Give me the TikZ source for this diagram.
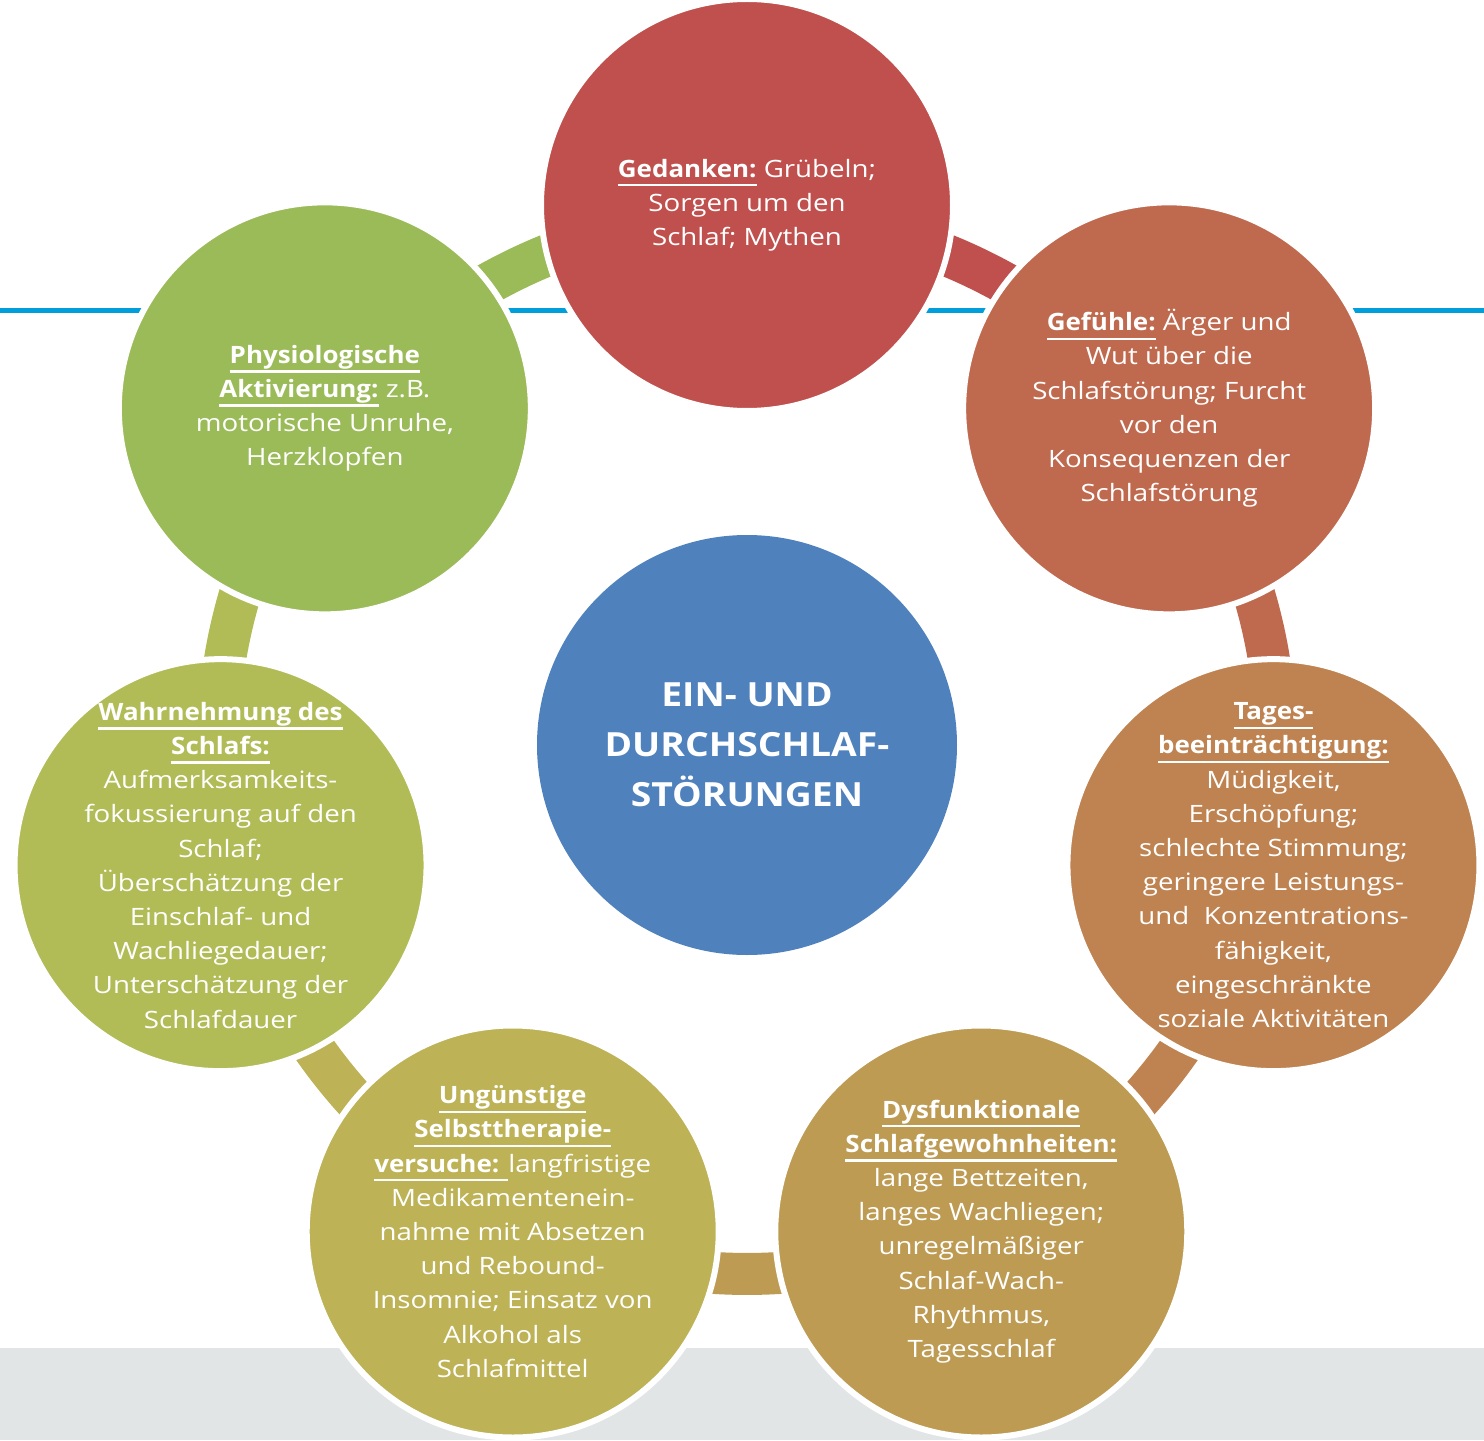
\documentclass[tikz,border=0pt]{standalone}
\usepackage{fontspec}
\setmainfont{Open Sans}[UprightFeatures={FakeStretch=1.158}, BoldFeatures={FakeStretch=1.086}]
\newfontfamily\kernfont{Open Sans}[FakeStretch=1.12]
\usetikzlibrary{positioning,calc}

\definecolor{gedankenred}{RGB}{192,80,77}
\definecolor{gefuehlered}{RGB}{191,106,79}
\definecolor{tagesorange}{RGB}{190,131,81}
\definecolor{gewohnheitgold}{RGB}{189,155,83}
\definecolor{therapieolive}{RGB}{189,178,85}
\definecolor{wahrnehmunggreen}{RGB}{177,188,87}
\definecolor{aktivierunggreen}{RGB}{155,187,89}
\definecolor{kernblue}{RGB}{79,129,189}
\definecolor{leisteblue}{RGB}{0,158,218}
\definecolor{sockelgray}{RGB}{226,229,230}

\newcommand{\CycleRadius}{5.40}
\newcommand{\BandFactor}{0.9796}
\newcommand{\BandRadius}{5.29}

% bold heading with a flat underline below the descenders
\newsavebox{\hdbox}
\newcommand{\hd}[1]{\sbox{\hdbox}{\bfseries #1}\rlap{\rule[-0.39em]{\wd\hdbox}{0.1em}}\usebox{\hdbox}}

\pgfdeclarelayer{back}
\pgfdeclarelayer{bands}
\pgfsetlayers{back,bands,main}

\tikzset{
  stepcircle/.style={circle, minimum size=4.12cm, inner sep=0pt, draw=white, line width=0.06cm},
  steptext/.style={text=white, align=center, inner sep=0pt, font=\fontsize{6.8}{9.73}\selectfont},
  band/.style={line width=0.42cm},
}

\begin{document}
\begin{tikzpicture}
  \useasboundingbox (-7.47,-6.95) rectangle (7.37,7.45);

  \node[circle, fill=kernblue, minimum size=4.20cm, inner sep=0pt, text=white, align=center,
        font=\kernfont\fontsize{9.47}{14.2}\selectfont\bfseries] (kern) at (0,0)
        {EIN- UND\\DURCHSCHLAF-\\STÖRUNGEN};

  \node[stepcircle, fill=gedankenred,
        label={[steptext]center:{\hd{Gedanken:} Grübeln;\\Sorgen um den\\Schlaf; Mythen}}]
        (gedanken) at ($(kern)+(90:\CycleRadius)$) {};
  \node[stepcircle, fill=gefuehlered,
        label={[steptext]center:{\hd{Gefühle:} Ärger und\\Wut über die\\Schlafstörung; Furcht\\vor den\\Konsequenzen der\\Schlafstörung}}]
        (gefuehle) at ($(kern)+(38.571:\CycleRadius)$) {};
  \node[stepcircle, fill=tagesorange,
        label={[steptext]center:{\hd{Tages-}\\\hd{beeinträchtigung:}\\Müdigkeit,\\Erschöpfung;\\schlechte Stimmung;\\geringere Leistungs-\\und\ \ Konzentrations-\\fähigkeit,\\eingeschränkte\\soziale Aktivitäten}}]
        (tages) at ($(kern)+(-12.857:\CycleRadius)$) {};
  \node[stepcircle, fill=gewohnheitgold,
        label={[steptext]center:{\hd{Dysfunktionale}\\\hd{Schlafgewohnheiten:}\\lange Bettzeiten,\\langes Wachliegen;\\unregelmäßiger\\Schlaf-Wach-\\Rhythmus,\\Tagesschlaf}}]
        (gewohnheit) at ($(kern)+(-64.286:\CycleRadius)$) {};
  \node[stepcircle, fill=therapieolive,
        label={[steptext]center:{\hd{Ungünstige}\\\hd{Selbsttherapie-}\\\hd{versuche: }langfristige\\Medikamentenein-\\nahme mit Absetzen\\und Rebound-\\Insomnie; Einsatz von\\Alkohol als\\Schlafmittel}}]
        (therapie) at ($(kern)+(-115.714:\CycleRadius)$) {};
  \node[stepcircle, fill=wahrnehmunggreen,
        label={[steptext]center:{\hd{Wahrnehmung des}\\\hd{Schlafs:}\\Aufmerksamkeits-\\fokussierung auf den\\Schlaf;\\Überschätzung der\\Einschlaf- und\\Wachliegedauer;\\Unterschätzung der\\Schlafdauer}}]
        (wahrnehmung) at ($(kern)+(-167.143:\CycleRadius)$) {};
  \node[stepcircle, fill=aktivierunggreen,
        label={[steptext]center:{\hd{Physiologische}\\\hd{Aktivierung:} z.B.\\motorische Unruhe,\\Herzklopfen}}]
        (aktivierung) at ($(kern)+(141.429:\CycleRadius)$) {};

  % ring segments between the steps
  \begin{pgfonlayer}{bands}
    \draw[band, gedankenred] ($(kern)!\BandFactor!(gedanken)$) arc[start angle=90, end angle=38.571, radius=\BandRadius];
    \draw[band, gefuehlered] ($(kern)!\BandFactor!(gefuehle)$) arc[start angle=38.571, end angle=-12.857, radius=\BandRadius];
    \draw[band, tagesorange] ($(kern)!\BandFactor!(tages)$) arc[start angle=-12.857, end angle=-64.286, radius=\BandRadius];
    \draw[band, gewohnheitgold] ($(kern)!\BandFactor!(gewohnheit)$) arc[start angle=-64.286, end angle=-115.714, radius=\BandRadius];
    \draw[band, therapieolive] ($(kern)!\BandFactor!(therapie)$) arc[start angle=-115.714, end angle=-167.143, radius=\BandRadius];
    \draw[band, wahrnehmunggreen] ($(kern)!\BandFactor!(wahrnehmung)$) arc[start angle=-167.143, end angle=-218.571, radius=\BandRadius];
    \draw[band, aktivierunggreen] ($(kern)!\BandFactor!(aktivierung)$) arc[start angle=141.429, end angle=90, radius=\BandRadius];
  \end{pgfonlayer}

  % page furniture behind everything
  \begin{pgfonlayer}{back}
    \fill[sockelgray] (-7.47,-6.95) rectangle (7.37,-6.03);
    \fill[leisteblue] (-7.47,4.315) rectangle (7.37,4.365);
  \end{pgfonlayer}
\end{tikzpicture}
\end{document}
